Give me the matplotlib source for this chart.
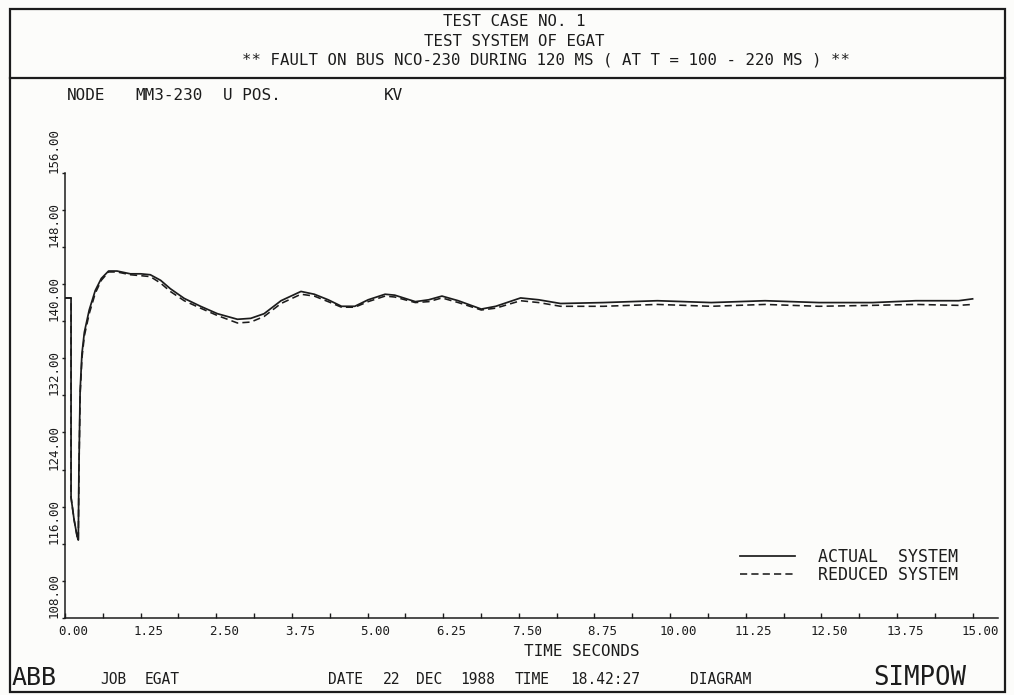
import matplotlib
matplotlib.use("Agg")
import matplotlib.pyplot as plt
from matplotlib.lines import Line2D
from matplotlib.patches import Rectangle
from matplotlib.transforms import ScaledTranslation

W, H = 1014, 695
MONO = "DejaVu Sans Mono"

# ---------------- data ----------------
t_actual = [0.0, 0.10, 0.10, 0.15, 0.20, 0.22, 0.23, 0.25, 0.28, 0.32,
            0.40, 0.50, 0.60, 0.72, 0.86, 1.08, 1.25, 1.41, 1.58, 1.74,
            1.97, 2.24, 2.52, 2.85, 3.07, 3.29, 3.57, 3.90, 4.12, 4.35,
            4.57, 4.79, 5.01, 5.29, 5.45, 5.79, 6.01, 6.23, 6.50, 6.88,
            7.12, 7.53, 7.83, 8.19, 8.90, 9.79, 10.68, 11.57, 12.46, 13.35,
            14.06, 14.77, 15.0]
v_actual = [142.5, 142.5, 121.0, 118.6, 116.8, 116.4, 124.0, 132.5, 136.5, 138.8,
            141.2, 143.3, 144.6, 145.4, 145.4, 145.1, 145.1, 145.0, 144.4, 143.5,
            142.45, 141.6, 140.8, 140.2, 140.3, 140.8, 142.2, 143.2, 142.9, 142.3,
            141.6, 141.6, 142.3, 142.9, 142.8, 142.1, 142.3, 142.7, 142.2, 141.3,
            141.6, 142.5, 142.3, 141.9, 142.0, 142.2, 142.0, 142.2, 142.0, 142.0,
            142.2, 142.2, 142.4]

t_reduced = t_actual
v_reduced = [142.5, 142.5, 121.0, 118.6, 116.8, 116.4, 123.5, 132.0, 136.0, 138.4,
             140.8, 143.0, 144.4, 145.3, 145.3, 145.0, 144.9, 144.8, 144.1, 143.2,
             142.2, 141.4, 140.6, 139.8, 139.9, 140.5, 141.9, 142.9, 142.7, 142.1,
             141.5, 141.5, 142.1, 142.7, 142.6, 142.0, 142.1, 142.5, 142.0, 141.2,
             141.4, 142.2, 142.0, 141.6, 141.6, 141.8, 141.6, 141.8, 141.6, 141.7,
             141.8, 141.7, 141.8]

series_labels = ["ACTUAL  SYSTEM", "REDUCED SYSTEM"]

x_ticks = [0.0, 1.25, 2.5, 3.75, 5.0, 6.25, 7.5, 8.75, 10.0, 11.25, 12.5, 13.75, 15.0]
x_tick_labels = ["0.00", "1.25", "2.50", "3.75", "5.00", "6.25", "7.50",
                 "8.75", "10.00", "11.25", "12.50", "13.75", "15.00"]
x_minor = [0.625, 1.875, 3.125, 4.375, 5.625, 6.875, 8.125, 9.375,
           10.625, 11.875, 13.125, 14.375]
y_ticks = [108, 116, 124, 132, 140, 148, 156]
y_tick_labels = ["108.00", "116.00", "124.00", "132.00", "140.00", "148.00", "156.00"]
y_minor = [112, 120, 128, 136, 144, 152]

title_lines = ["TEST CASE NO. 1", "TEST SYSTEM OF EGAT",
               "** FAULT ON BUS NCO-230 DURING 120 MS ( AT T = 100 - 220 MS ) **"]

# ---------------- figure ----------------
INK = "#1c1c1c"
fig = plt.figure(figsize=(W / 100, H / 100), dpi=100)
fig.patch.set_facecolor("#fcfcfa")


def fx(x):
    return x / W


def fy(y):
    return 1 - y / H


ax = fig.add_axes([fx(65), fy(618), fx(998) - fx(65), fy(172.7) - fy(618)])
ax.patch.set_alpha(0)
ax.set_xlim(0, 15.42)
ax.set_ylim(108, 156)
for s in ("top", "right"):
    ax.spines[s].set_visible(False)
for s in ("left", "bottom"):
    ax.spines[s].set_linewidth(1.1)
    ax.spines[s].set_color(INK)

ln1, = ax.plot(t_actual, v_actual, color=INK, lw=1.25, solid_joinstyle="round")
ln2, = ax.plot(t_reduced, v_reduced, color=INK, lw=1.15, ls=(0, (4.5, 2.6)))

ax.set_xticks(x_ticks)
ax.set_xticklabels(x_tick_labels, fontsize=9, family=MONO, color=INK)
ax.set_xticks(x_minor, minor=True)
ax.tick_params(axis="x", which="both", direction="in", length=3.6, width=1,
               color=INK, pad=5)
off = ScaledTranslation(8 / 100, 0, fig.dpi_scale_trans)
for lbl in ax.get_xticklabels():
    lbl.set_transform(lbl.get_transform() + off)

ax.set_yticks(y_ticks)
ax.set_yticklabels(y_tick_labels, fontsize=9, family=MONO, color=INK,
                   rotation=90, va="bottom")
ax.set_yticks(y_minor, minor=True)
ax.tick_params(axis="y", which="both", direction="out", length=2.4, width=1,
               color=INK, pad=0.5)

leg = ax.legend([ln1, ln2], series_labels, loc="upper left",
                bbox_to_anchor=(fx(740), fy(548)), bbox_transform=fig.transFigure,
                frameon=False, prop={"family": MONO, "size": 12},
                handlelength=3.3, handletextpad=1.4, labelspacing=0.0,
                borderpad=0, borderaxespad=0)
for txt in leg.get_texts():
    txt.set_color(INK)

# ---------------- frame ----------------
fig.add_artist(Rectangle((fx(10), fy(692)), fx(1005) - fx(10), fy(9) - fy(692),
                         transform=fig.transFigure, fill=False, lw=1.6, ec=INK))
fig.add_artist(Line2D([fx(10), fx(1005)], [fy(78), fy(78)],
                      transform=fig.transFigure, lw=1.6, color=INK))

# ---------------- texts ----------------
def ftext(x, y, s, size, ha="left"):
    fig.text(fx(x), fy(y), s, ha=ha, va="center", fontsize=size, family=MONO, color=INK)


ftext(514, 22, title_lines[0], 11.3, ha="center")
ftext(514, 41, title_lines[1], 11.3, ha="center")
ftext(546, 60, title_lines[2], 11.3, ha="center")

ftext(67, 96, "NODE", 11.5)
ftext(135, 96, "MM3-230", 11.5)
ftext(223, 96, "U POS.", 11.5)
ftext(384, 96, "KV", 11.5)

ftext(582, 651, "TIME SECONDS", 11.5, ha="center")

ftext(12, 678, "ABB", 18)
ftext(100, 680, "JOB", 10.5)
ftext(145, 680, "EGAT", 10.5)
ftext(328, 680, "DATE", 10.5)
ftext(383, 680, "22", 10.5)
ftext(416, 680, "DEC", 10.5)
ftext(460, 680, "1988", 10.5)
ftext(515, 680, "TIME", 10.5)
ftext(570, 680, "18.42:27", 10.5)
ftext(690, 680, "DIAGRAM", 10.5)
ftext(873, 678, "SIMPOW", 18.5)

fig.savefig("out.png", dpi=100, facecolor=fig.get_facecolor())
